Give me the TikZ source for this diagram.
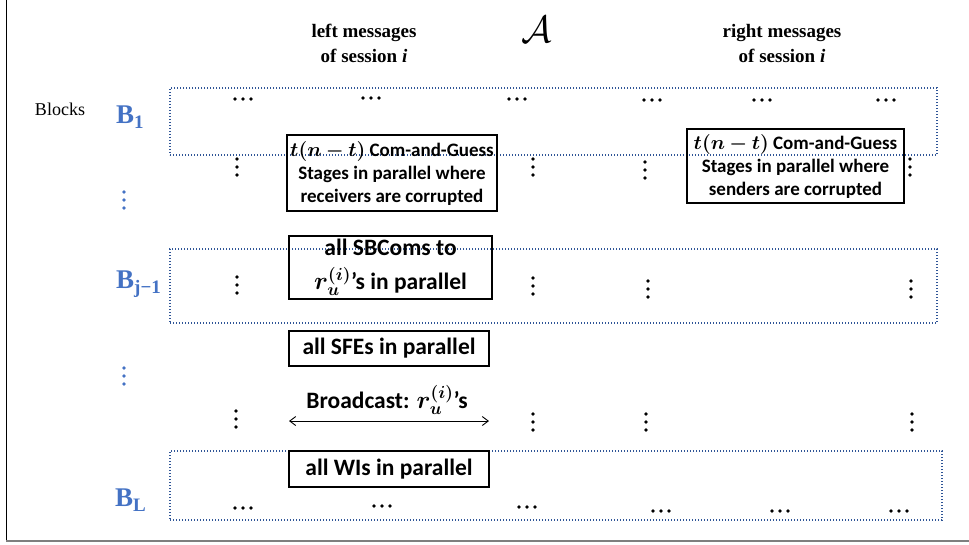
\RequirePackage{fix-cm}
\documentclass[tikz,border=0pt]{standalone}
\usepackage{bm}
\usepackage{fontspec}
\setmainfont{Liberation Serif}
\newfontfamily\boxfont{Carlito}
\usetikzlibrary{arrows.meta}
\definecolor{blkblue}{HTML}{2F5597}
\definecolor{lblblue}{HTML}{4472C4}
\definecolor{framegray}{HTML}{7F7F7F}
\newcommand{\hdotsat}[2]{\foreach \k in {-8,0,8} \fill (#1+\k,#2) circle (1.8pt);}
\newcommand{\vdotsat}[3][black]{\foreach \k in {-8,0,8} \fill[#1] (#2,#3+\k) circle (1.8pt);}
\newcommand{\tnt}{{\fontsize{20}{23}\selectfont$\bm{t(n-t)}$}}
\newcommand{\rui}{{\fontsize{25}{27}\selectfont$\bm{r_u^{(i)}}$}}
\begin{document}
\begin{tikzpicture}[x=1pt,y=-1pt,
  blockrect/.style={draw=blkblue, line width=1.6pt, dash pattern=on 1.4pt off 1.6pt, inner sep=0pt},
  tbox/.style={draw=black, line width=1.3pt, inner sep=0pt, align=center},
  bf19/.style={font=\boxfont\bfseries\fontsize{19}{23}\selectfont},
  bf23/.style={font=\boxfont\bfseries\fontsize{23.5}{27}\selectfont},
  blab/.style={text=lblblue, font=\fontsize{27}{27}\selectfont\bfseries, inner sep=0pt, anchor=base west},
  head/.style={font=\fontsize{19}{25}\selectfont\bfseries, align=center},
  bcast/.style={<->, >={Straight Barb[length=6pt,width=9pt]}, line width=0.9pt}
]
\useasboundingbox (0,0) rectangle (969,544);
% frame
\draw[line width=1.7pt] (6.5,0) -- (6.5,541);
\draw[framegray, line width=2.2pt] (6,541) -- (969,541);

% headings
\node[head] (lefthead) at (364,43) {left messages\\of session \textit{i}};
\node[head] (righthead) at (782,43) {right messages\\of session \textit{i}};
\node[inner sep=0pt, font=\fontsize{38}{38}\selectfont] (advA) at (537,30) {$\mathcal{A}$};

% blocks label
\node[font=\fontsize{18}{18}\selectfont, inner sep=0pt] (blockslbl) at (60,109) {Blocks};
\node[blab] (B1) at (116,123) {B\raisebox{-0.2em}{\fontsize{19}{19}\selectfont 1}};
\node[blab] (Bj) at (116,288) {B\raisebox{-0.2em}{\fontsize{19}{19}\selectfont j−1}};
\node[blab] (BL) at (115,506) {B\raisebox{-0.2em}{\fontsize{19}{19}\selectfont L}};
\vdotsat[lblblue]{124}{200}
\vdotsat[lblblue]{124}{376}

% block rectangles
\node[blockrect, minimum width=767pt, minimum height=67pt] (blk1) at (553.5,121.5) {};
\node[blockrect, minimum width=767pt, minimum height=74pt] (blkj) at (553.5,286) {};
\node[blockrect, minimum width=772pt, minimum height=69pt] (blkL) at (556,485.5) {};

% text boxes
\node[tbox, bf19, minimum width=210pt, minimum height=76pt] (cgR) at (392,173)
  {\tnt{} Com-and-Guess\\Stages in parallel where\\receivers are corrupted};
\node[tbox, bf19, minimum width=217pt, minimum height=74pt] (cgS) at (795.5,166)
  {\tnt{} Com-and-Guess\\Stages in parallel where\\senders are corrupted};
\node[tbox, minimum width=203pt, minimum height=63pt, font=\boxfont\bfseries\fontsize{23.5}{34}\selectfont] (sbcom) at (390.5,267.5)
  {all SBComs to\\\rui’s in parallel};
\node[tbox, bf23, minimum width=200pt, minimum height=35pt] (sfe) at (389,348.5)
  {all SFEs in parallel};
\node[tbox, bf23, minimum width=200pt, minimum height=36pt] (wi) at (389,469)
  {all WIs in parallel};

% broadcast
\coordinate (bcl) at (289,421);
\coordinate (bcr) at (489,421);
\draw[bcast] (bcl) -- (bcr);
\node[bf23, inner sep=0pt] (bclbl) at (387,400) {Broadcast: \rui’s};

% horizontal ellipses top
\hdotsat{243}{99}
\hdotsat{371}{98}
\hdotsat{517}{99}
\hdotsat{652}{100}
\hdotsat{762}{100}
\hdotsat{886}{100}
% vertical dots row 1
\vdotsat{237}{167}
\vdotsat{533}{167}
\vdotsat{645}{170}
\vdotsat{910}{167}
% vertical dots row Bj-1
\vdotsat{237}{285}
\vdotsat{533}{286}
\vdotsat{648}{289}
\vdotsat{911}{289}
% vertical dots broadcast row
\vdotsat{236}{419}
\vdotsat{533}{422}
\vdotsat{646}{422}
\vdotsat{912}{422}
% bottom ellipses
\hdotsat{243}{508}
\hdotsat{382}{506}
\hdotsat{527}{507}
\hdotsat{661}{511}
\hdotsat{780}{511}
\hdotsat{899}{511}
\end{tikzpicture}
\end{document}
